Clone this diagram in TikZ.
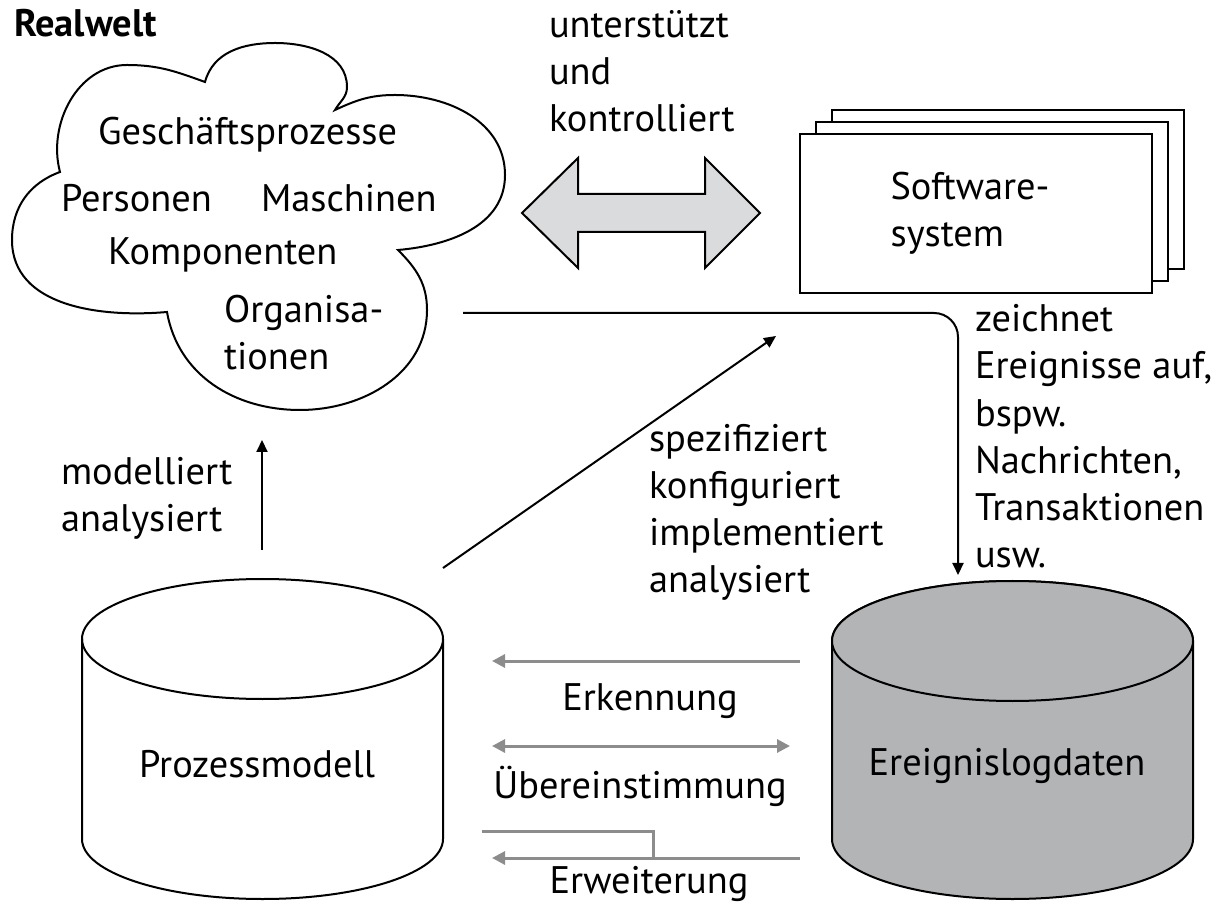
\documentclass[tikz,border=0pt]{standalone}
\usepackage{fontspec}
\setmainfont{PT Sans}
\usepackage{tikz}
\usetikzlibrary{positioning,arrows.meta,calc}

\definecolor{logfill}{RGB}{179,180,182}
\definecolor{dblfill}{RGB}{218,219,220}
\definecolor{flowgray}{RGB}{140,140,140}

\begin{document}
\begin{tikzpicture}[
  x=0.5pt, y=0.5pt, line width=1pt,
  every node/.style={font=\fontsize{19.2}{23.5}\selectfont, inner sep=0pt},
  txt/.style={align=left, anchor=base west},
  arr/.style={-{Triangle[length=6pt, width=5.5pt]}, line width=1pt},
  flow/.style={draw=flowgray, line width=1.5pt, -{Triangle[length=6.5pt, width=6.5pt]}}
]
\useasboundingbox (0,0) rectangle (1213,910);

% real world cloud
\draw (205,828) to[out=75,in=180] (275,867) to[out=0,in=90] (347,823)
  to[out=-90,in=60] (335,800) to[out=25,in=180] (395,815) to[out=0,in=90] (505,735)
  to[out=-90,in=5] (398,660) to[out=-45,in=90] (427,600) to[out=-90,in=0] (300,500)
  to[out=180,in=-80] (167,598) to[out=185,in=-90] (12,670) to[out=90,in=200] (60,738)
  to[out=105,in=180] (127,845) to[out=0,in=160] (205,828) -- cycle;
\node[txt, font=\fontsize{19.2}{23.5}\selectfont\bfseries] (rw) at (13,873) {Realwelt};
\node[txt] (gp) at (97,765) {Geschäftsprozesse};
\node[txt] (pers) at (60,698) {Personen};
\node[txt] (masch) at (260,698) {Maschinen};
\node[txt] (komp) at (107,645) {Komponenten};
\node[txt] (org) at (223,540) {Organisa-\\tionen};

% supports / controls
\draw[fill=dblfill] (522,697) -- (578,752) -- (578,716) -- (705,716) -- (705,752)
  -- (760,697) -- (705,642) -- (705,678) -- (578,678) -- (578,642) -- cycle;
\node[txt] (uk) at (548,778) {unterstützt\\und\\kontrolliert};

% software system, three sheets
\foreach \d in {2,1,0}
  \draw[fill=white] (800+16*\d,617+12*\d) rectangle ++(352,159);
\node[align=left] (sw) at (970,697) {Software-\\system};

% recording events
\coordinate (rwout) at (463,597);
\coordinate (elin) at (958,335);
\draw[arr, rounded corners=12pt] (rwout) -- (elin |- rwout) -- (elin);
\node[txt] (rec) at (974,343) {zeichnet\\Ereignisse auf,\\bspw.\\Nachrichten,\\Transaktionen\\usw.};

% model to software
\coordinate (pmout) at (443,342);
\coordinate (swin) at (776,574);
\draw[arr] (pmout) -- (swin);
\node[txt] (spec) at (648,317) {spezifiziert\\konfiguriert\\implementiert\\analysiert};

% model to real world
\coordinate (pmup) at (262,360);
\coordinate (rwin) at (262,470);
\draw[arr] (pmup) -- (rwin);
\node[txt] (mod) at (60,378) {modelliert\\analysiert};

% process model
\draw (82,271) -- (82,71) arc[start angle=180, end angle=360, x radius=90.25pt, y radius=30pt] -- (443,271);
\draw (262.5,271) ellipse[x radius=90.25pt, y radius=30pt];
\node[anchor=base] (pm) at (257,133) {Prozessmodell};

% event log
\draw[fill=logfill] (832,269) -- (832,71) arc[start angle=180, end angle=360, x radius=90.25pt, y radius=30pt]
  -- (1193,269) arc[start angle=0, end angle=180, x radius=90.25pt, y radius=30pt] -- cycle;
\draw[fill=logfill] (1012.5,269) ellipse[x radius=90.25pt, y radius=30pt];
\node[anchor=base] (el) at (1007,135) {Ereignislogdaten};

% discovery, conformance, enhancement
\coordinate (elA) at (800,249);
\coordinate (pmA) at (492,249);
\draw[flow] (elA) -- (pmA);
\node[anchor=base] (disc) at (650,200) {Erkennung};

\coordinate (pmB) at (492,164);
\coordinate (elB) at (790,164);
\draw[flow, {Triangle[length=6.5pt, width=6.5pt]}-{Triangle[length=6.5pt, width=6.5pt]}] (pmB) -- (elB);
\node[anchor=base] (conf) at (640,112) {Übereinstimmung};

\coordinate (elC) at (800,52);
\coordinate (pmC) at (492,52);
\coordinate (pmD) at (482,79);
\draw[flow] (elC) -- (pmC);
\draw[draw=flowgray, line width=1.5pt] (pmD) -- (653,79) -- (653,52);
\node[anchor=base] (enh) at (649,17) {Erweiterung};
\end{tikzpicture}
\end{document}
